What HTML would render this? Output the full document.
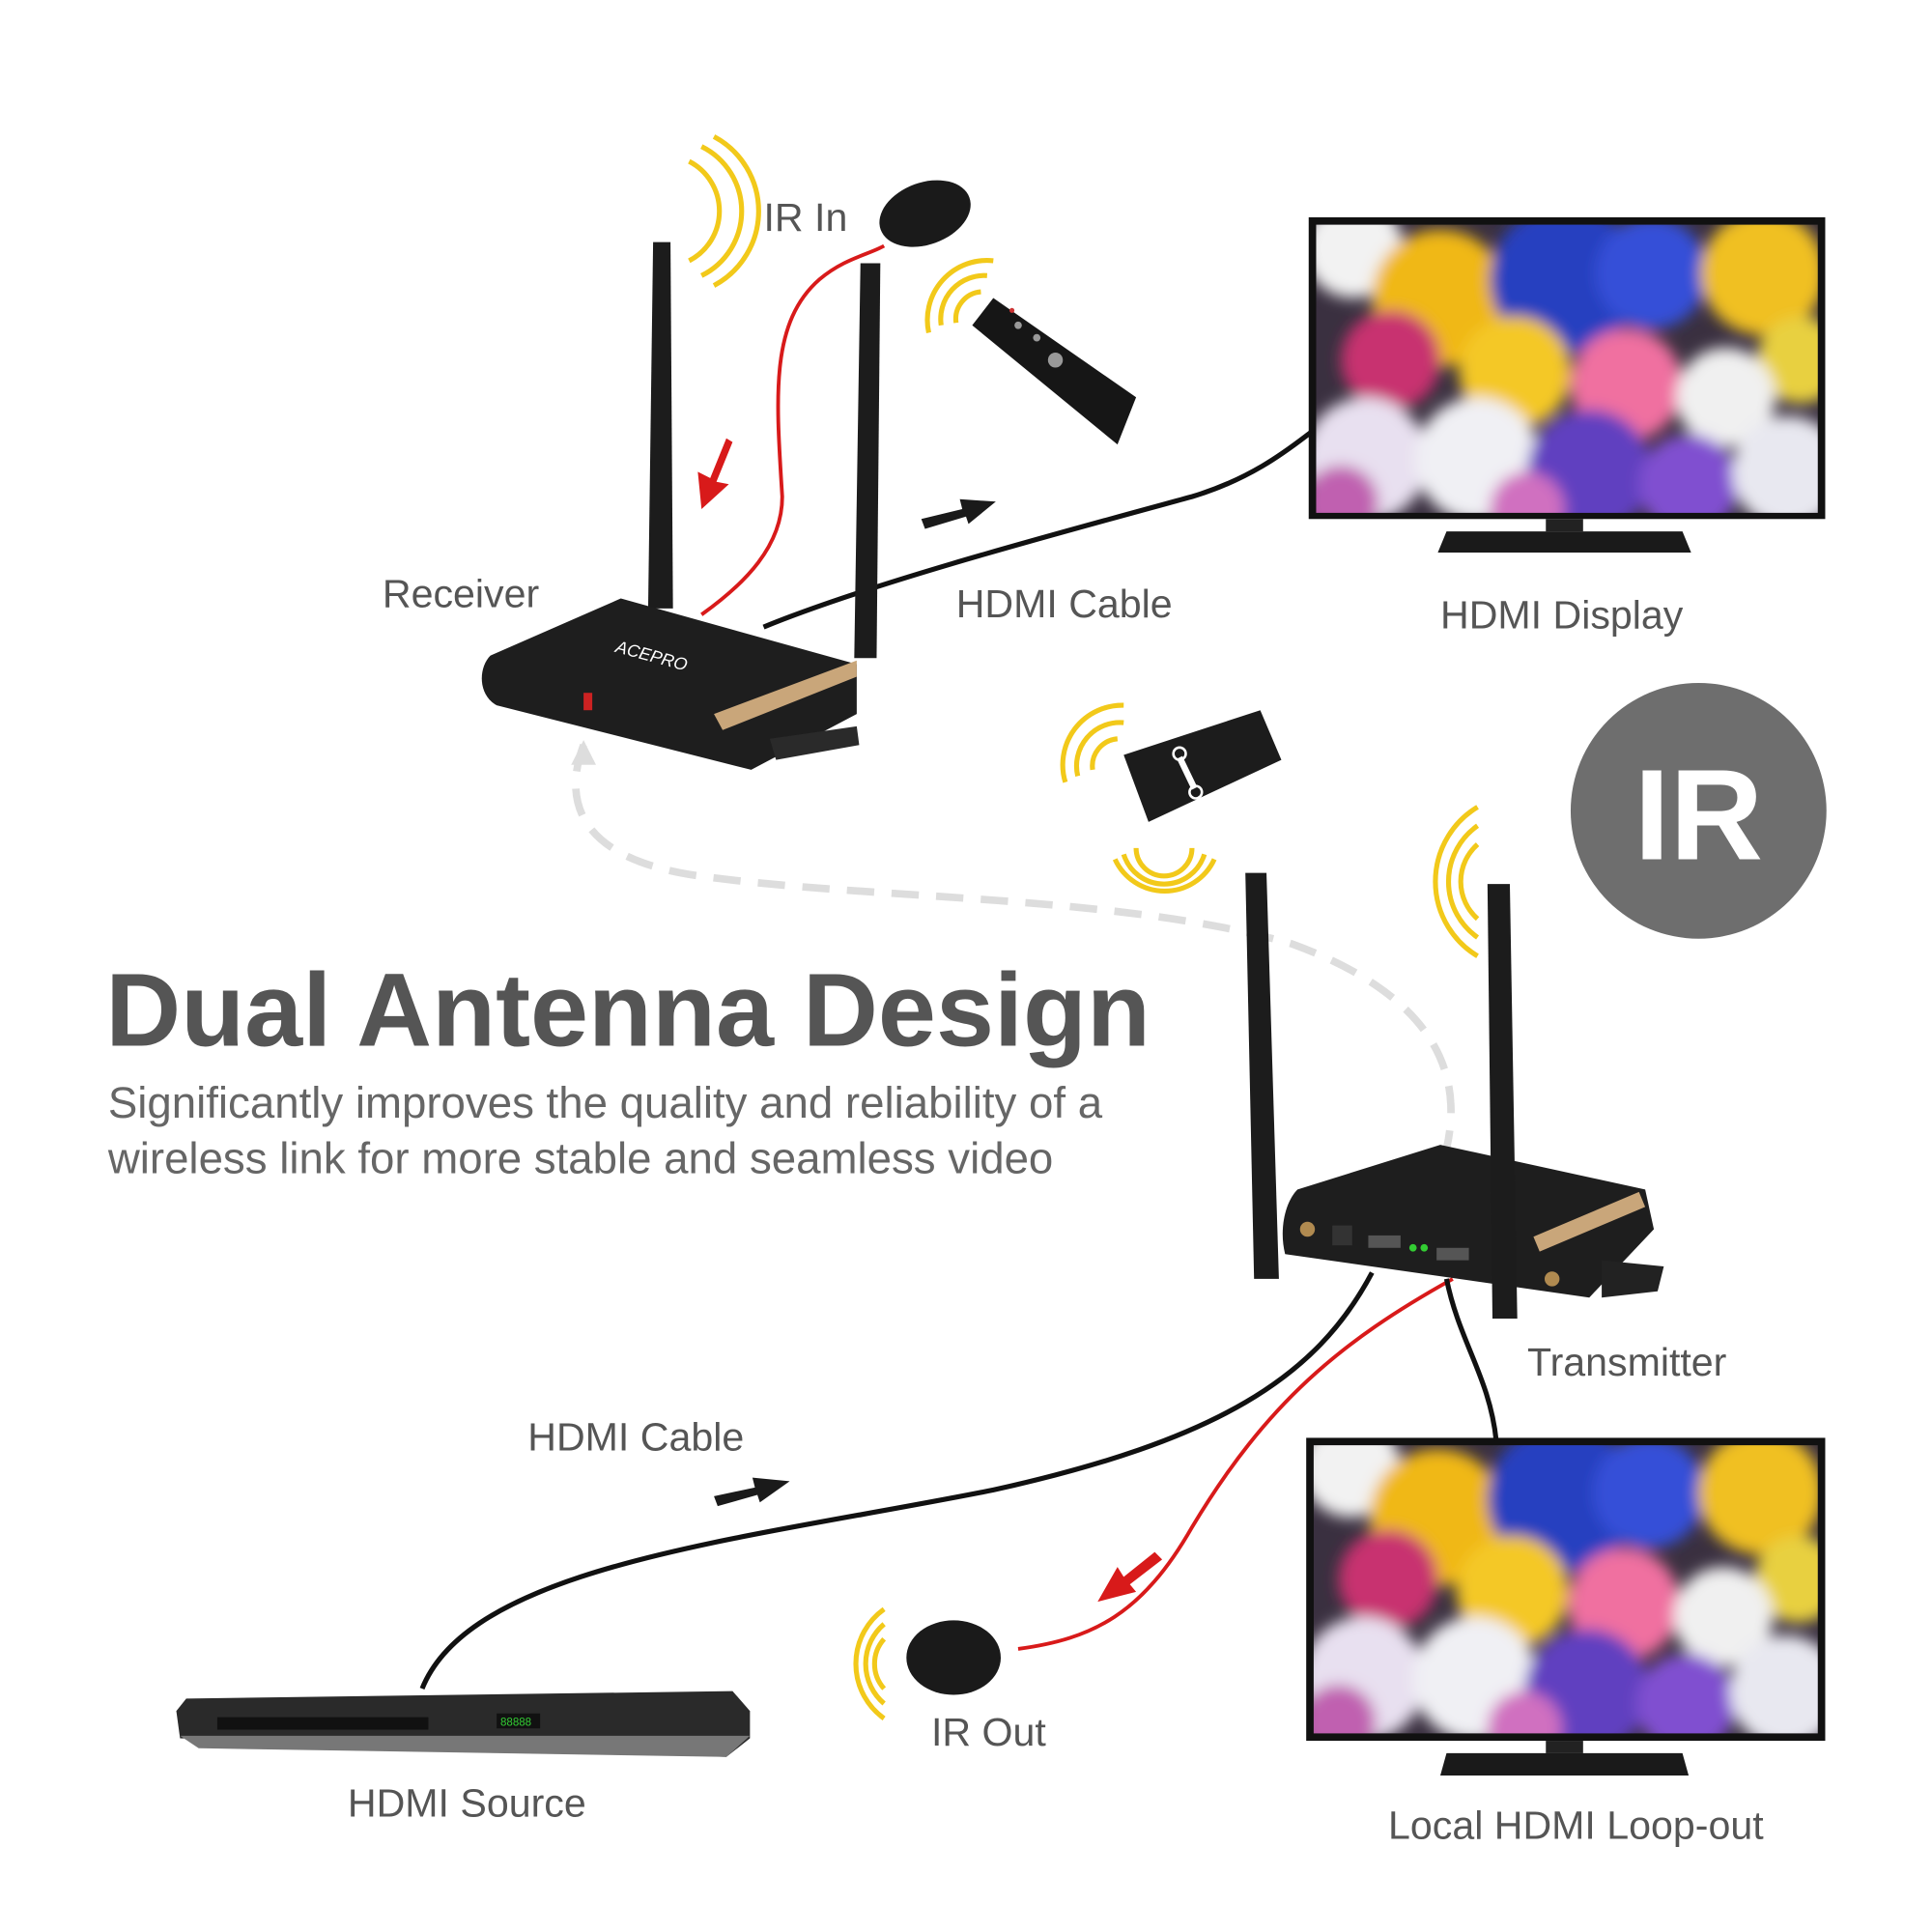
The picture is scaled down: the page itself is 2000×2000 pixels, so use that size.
<!DOCTYPE html>
<html><head><meta charset="utf-8"><style>
html,body{margin:0;padding:0;background:#fff}
svg{display:block}
text{font-family:"Liberation Sans",sans-serif}
</style></head><body>
<svg width="2000" height="2000" viewBox="0 0 1556 1556" xmlns="http://www.w3.org/2000/svg">
<defs>
<filter id="bl" x="-20%" y="-20%" width="140%" height="140%"><feGaussianBlur stdDeviation="6"/></filter>
<clipPath id="scr1"><rect x="1060" y="181" width="404" height="232"/></clipPath>
<clipPath id="scr2"><rect x="1058" y="1164" width="406" height="232"/></clipPath>
<g id="flowers">
<rect x="0" y="0" width="410" height="240" fill="#3a3040"/>
<g filter="url(#bl)">
<circle cx="30" cy="20" r="40" fill="#f2f2f2"/>
<circle cx="100" cy="60" r="55" fill="#f0b818"/>
<circle cx="60" cy="110" r="40" fill="#c83070"/>
<circle cx="200" cy="45" r="60" fill="#2840c0"/>
<circle cx="270" cy="40" r="45" fill="#3550d8"/>
<circle cx="360" cy="40" r="50" fill="#f0c020"/>
<circle cx="390" cy="110" r="35" fill="#e8d040"/>
<circle cx="160" cy="120" r="45" fill="#f4c828"/>
<circle cx="250" cy="130" r="45" fill="#f070a0"/>
<circle cx="330" cy="140" r="40" fill="#f0f0f0"/>
<circle cx="40" cy="190" r="50" fill="#e8e0f0"/>
<circle cx="130" cy="190" r="50" fill="#f0f0f4"/>
<circle cx="220" cy="200" r="50" fill="#6040c0"/>
<circle cx="300" cy="210" r="40" fill="#8050d0"/>
<circle cx="380" cy="200" r="45" fill="#e8e8f0"/>
<circle cx="20" cy="225" r="30" fill="#c060b0"/>
<circle cx="170" cy="230" r="30" fill="#d070c0"/>
</g>
</g>
</defs>
<rect width="1556" height="1556" fill="#fff"/>

<rect x="1054" y="175" width="416" height="243" fill="#111"/>
<g clip-path="url(#scr1)"><use href="#flowers" transform="translate(1060,180)"/></g>
<rect x="1245" y="418" width="30" height="10" fill="#222"/>
<path d="M1165 428 L1355 428 L1362 445 L1158 445 Z" fill="#1a1a1a"/>
<rect x="1052" y="1158" width="418" height="244" fill="#111"/>
<g clip-path="url(#scr2)"><use href="#flowers" transform="translate(1058,1162)"/></g>
<rect x="1245" y="1402" width="30" height="10" fill="#222"/>
<path d="M1165 1412 L1355 1412 L1360 1430 L1160 1430 Z" fill="#1a1a1a"/>

<circle cx="1368" cy="653" r="103" fill="#6e6e6e"/>
<text x="1368" y="692" font-size="104" font-weight="bold" fill="#fff" text-anchor="middle">IR</text>

<path d="M470 600 C455 640 460 690 560 705 C700 725 900 720 1040 760 C1150 800 1180 860 1165 925" fill="none" stroke="#ddd" stroke-width="6" stroke-dasharray="22 14"/>
<path d="M470 596 L460 616 L480 616 Z" fill="#ddd"/>

<path d="M615 505 C700 470 850 430 960 400 C1010 385 1040 360 1056 348" fill="none" stroke="#111" stroke-width="4"/>
<path d="M565 495 C600 470 630 440 630 400 C625 320 620 260 660 225 C680 208 700 205 712 198" fill="none" stroke="#d81a1a" stroke-width="3"/>

<path d="M526 195 L540 195 L542 490 L522 490 Z" fill="#1c1c1c"/>
<path d="M693 212 L709 212 L706 530 L688 530 Z" fill="#1c1c1c"/>
<path d="M395 528 L500 482 L690 535 L690 575 L605 620 L400 568 C385 560 385 538 395 528 Z" fill="#1e1e1e"/>
<path d="M575 575 L690 532 L690 545 L582 588 Z" fill="#c9a67a"/>
<path d="M620 595 L690 585 L692 600 L625 612 Z" fill="#2a2a2a"/>
<text x="495" y="525" font-size="14" fill="#fff" font-style="italic" transform="rotate(15 495 525)">ACEPRO</text>
<rect x="470" y="558" width="7" height="14" fill="#c22"/>
<ellipse cx="745" cy="172" rx="38" ry="25" fill="#1a1a1a" transform="rotate(-20 745 172)"/>
<path d="M800 240 L915 320 L900 358 L783 262 Z" fill="#161616"/>
<g fill="#999"><circle cx="820" cy="262" r="3"/><circle cx="835" cy="272" r="3"/><circle cx="850" cy="290" r="6"/><circle cx="815" cy="250" r="2" fill="#c33"/></g>

<path d="M905 608 L1015 572 L1032 612 L925 662 Z" fill="#1c1c1c"/>
<path d="M950 610 L962 635" stroke="#fff" stroke-width="5"/>
<circle cx="950" cy="607" r="5" fill="none" stroke="#fff" stroke-width="2"/>
<circle cx="963" cy="638" r="5" fill="none" stroke="#fff" stroke-width="2"/>

<path d="M1105 1025 C1060 1110 980 1160 800 1200 C600 1240 380 1260 340 1360" fill="none" stroke="#111" stroke-width="4"/>
<path d="M1170 1030 C1080 1080 1020 1130 960 1230 C920 1300 880 1320 820 1328" fill="none" stroke="#d81a1a" stroke-width="3"/>
<path d="M1165 1030 C1175 1080 1200 1110 1205 1160" fill="none" stroke="#111" stroke-width="4"/>

<path d="M1003 703 L1020 703 L1030 1030 L1010 1030 Z" fill="#1c1c1c"/>
<path d="M1045 958 L1160 922 L1325 958 L1332 990 L1280 1045 L1035 1010 C1030 990 1035 968 1045 958 Z" fill="#1e1e1e"/>
<path d="M1235 996 L1320 960 L1325 972 L1240 1008 Z" fill="#c9a67a"/>
<path d="M1290 1015 L1340 1020 L1335 1040 L1290 1045 Z" fill="#222"/>
<rect x="1073" y="987" width="16" height="16" fill="#333"/>
<rect x="1102" y="995" width="26" height="10" fill="#555"/>
<rect x="1157" y="1005" width="26" height="10" fill="#555"/>
<circle cx="1138" cy="1005" r="3" fill="#3c3"/><circle cx="1147" cy="1005" r="3" fill="#3c3"/>
<circle cx="1053" cy="990" r="6" fill="#b08a50"/><circle cx="1250" cy="1030" r="6" fill="#b08a50"/>
<path d="M1198 712 L1216 712 L1222 1062 L1202 1062 Z" fill="#1c1c1c"/>

<ellipse cx="768" cy="1335" rx="38" ry="30" fill="#1a1a1a"/>

<path d="M150 1368 L590 1362 L604 1378 L604 1400 L585 1415 L145 1400 L142 1378 Z" fill="#2a2a2a"/>
<path d="M145 1398 L604 1398 L585 1415 L160 1408 Z" fill="#777"/>
<rect x="175" y="1383" width="170" height="10" fill="#111"/>
<rect x="400" y="1380" width="35" height="12" fill="#111"/>
<text x="403" y="1390" font-size="9" fill="#3c3">88888</text>

<g fill="none" stroke="#f2c91a" stroke-width="4">
<path d="M555 130 A45 45 0 0 1 555 210"/><path d="M565 118 A58 58 0 0 1 565 222"/><path d="M575 110 A68 68 0 0 1 575 230"/>
<path d="M770 260 A22 22 0 0 1 790 235"/><path d="M758 262 A35 35 0 0 1 795 222"/><path d="M748 268 A48 48 0 0 1 800 210"/>
<path d="M880 620 A22 22 0 0 1 900 595"/><path d="M868 625 A35 35 0 0 1 905 582"/><path d="M858 630 A48 48 0 0 1 905 568"/>
<path d="M915 683 A22 22 0 0 0 960 683"/><path d="M905 688 A34 34 0 0 0 970 688"/><path d="M898 692 A44 44 0 0 0 978 692"/>
<path d="M1190 740 A40 40 0 0 1 1190 680"/><path d="M1190 755 A55 55 0 0 1 1190 665"/><path d="M1190 770 A70 70 0 0 1 1190 650"/>
<path d="M712 1360 A30 30 0 0 1 712 1320"/><path d="M712 1372 A42 42 0 0 1 712 1308"/><path d="M712 1384 A54 54 0 0 1 712 1296"/>
</g>

<path d="M585 353 L572 385 L562 380 L565 410 L587 390 L577 388 L590 356 Z" fill="#d81a1a"/>
<path d="M742 418 L775 410 L773 402 L802 404 L780 422 L778 416 L745 426 Z" fill="#1a1a1a"/>
<path d="M575 1205 L608 1198 L606 1190 L636 1193 L612 1210 L610 1204 L578 1213 Z" fill="#1a1a1a"/>
<path d="M930 1250 L905 1270 L900 1262 L884 1290 L915 1282 L910 1276 L936 1256 Z" fill="#d81a1a"/>

<g fill="#555" font-size="32">
<text x="615" y="186">IR In</text>
<text x="308" y="489">Receiver</text>
<text x="770" y="497">HDMI Cable</text>
<text x="1160" y="506">HDMI Display</text>
<text x="1230" y="1108">Transmitter</text>
<text x="425" y="1168">HDMI Cable</text>
<text x="750" y="1406">IR Out</text>
<text x="280" y="1463">HDMI Source</text>
<text x="1118" y="1481">Local HDMI Loop-out</text>
</g>
<text x="85" y="842" font-size="84" font-weight="bold" fill="#555">Dual Antenna Design</text>
<g fill="#666" font-size="35.5">
<text x="87" y="900">Significantly improves the quality and reliability of a</text>
<text x="87" y="945">wireless link for more stable and seamless video</text>
</g>
</svg>
</body></html>
